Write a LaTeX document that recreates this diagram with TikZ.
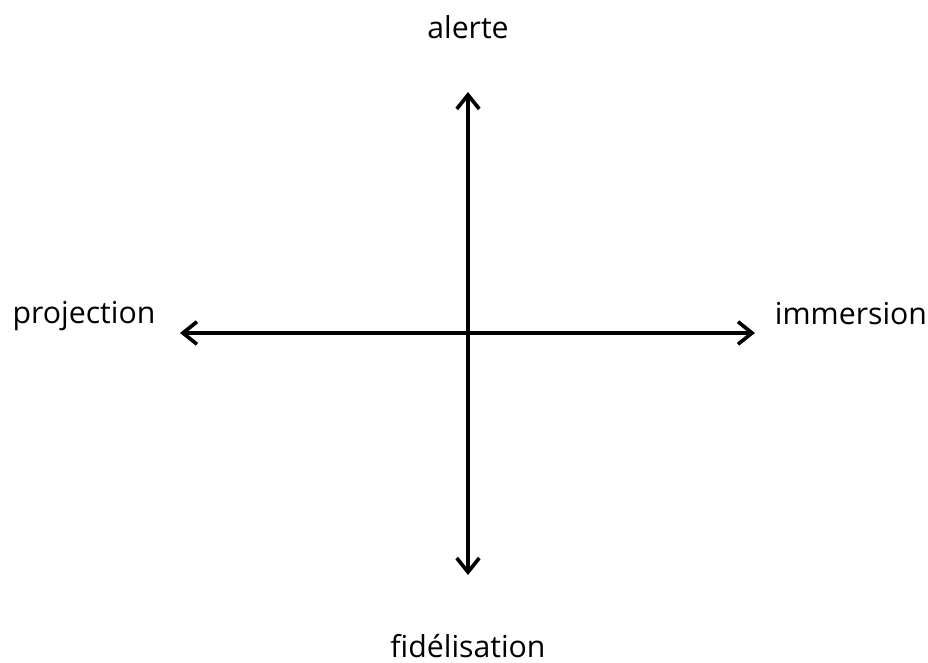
\documentclass[tikz,border=0pt]{standalone}
\usepackage{fontspec}
\setmainfont[Ligatures=NoCommon]{Open Sans}
\usetikzlibrary{arrows.meta}

\tikzset{
  axe/.style={line width=2.7pt, {Straight Barb[length=10pt, width=16pt, line width=2.6pt]}-{Straight Barb[length=10pt, width=16pt, line width=2.6pt]}},
  pole/.style={font=\fontsize{21.5}{24}\selectfont, inner sep=0pt}
}

\begin{document}
\begin{tikzpicture}[x=0.025cm, y=0.025cm]
    \useasboundingbox (0,0) rectangle (928,663);
    % extremites des axes
    \coordinate (haut) at (468,571);
    \coordinate (bas) at (468,88);
    \coordinate (gauche) at (180,330);
    \coordinate (droite) at (755,330);
    % les quatre poles
    \node[pole] (alerte) at (468,636) {alerte};
    \node[pole] (fidelisation) at (468,17) {fidélisation};
    \node[pole] (projection) at (84,347) {projection};
    \node[pole] (immersion) at (851,349) {immersion};
    % axes
    \draw[axe] (bas) -- (haut);
    \draw[axe] (gauche) -- (droite);
  \end{tikzpicture}
\end{document}
